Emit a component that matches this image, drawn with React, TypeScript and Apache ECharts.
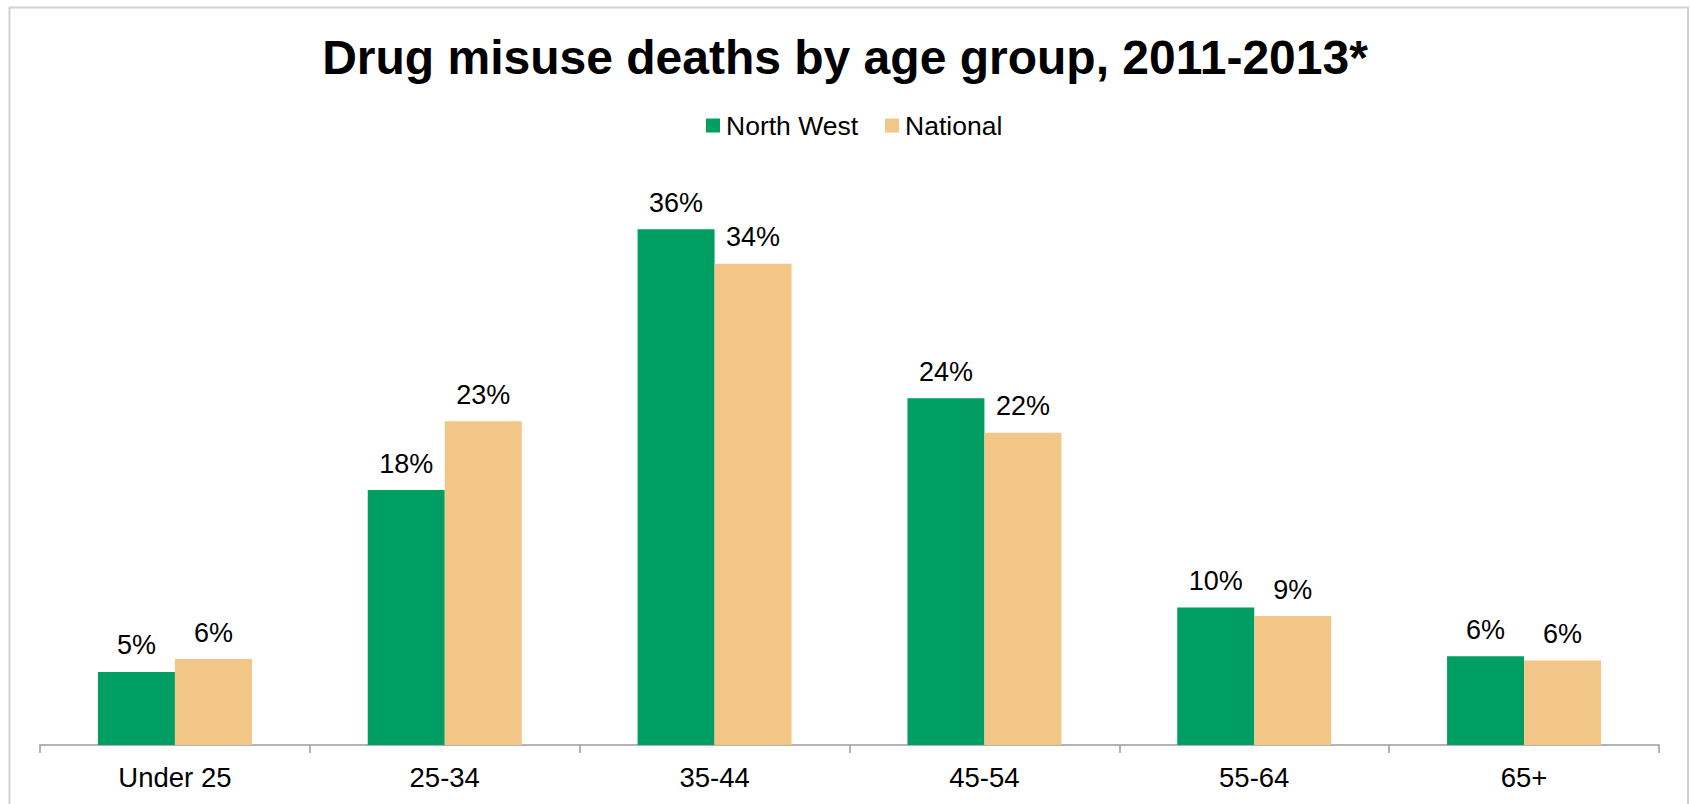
import React, { useEffect, useRef } from "react";
import * as echarts from "echarts";

// Share of drug misuse deaths by age band, 2011-2013 (%)
const ageGroups = ["Under 25", "25-34", "35-44", "45-54", "55-64", "65+"];
const northWest = [5.1, 17.8, 36.0, 24.2, 9.6, 6.2];
const national = [6.0, 22.6, 33.6, 21.8, 9.0, 5.9];
const seriesNames = ["North West", "National"];

const FONT = "'Liberation Sans', Arial, sans-serif";
const GREEN = "#009E63";
const TAN = "#F1C686";
const AXIS_GREY = "#9a9a9a";

export default function App() {
  const ref = useRef<HTMLDivElement>(null);

  useEffect(() => {
    if (!ref.current) return;
    const chart = echarts.init(ref.current, undefined, { renderer: "svg" });

    const label = {
      show: true,
      position: "top",
      distance: 13,
      fontSize: 27,
      fontFamily: FONT,
      color: "#000",
      formatter: (p: any) => `${Math.round(p.value)}%`,
    };

    chart.setOption({
      animation: false,
      backgroundColor: "#fff",
      textStyle: { fontFamily: FONT },
      title: {
        text: "Drug misuse deaths by age group, 2011-2013*",
        left: "center",
        top: 33,
        padding: 0,
        textStyle: { fontSize: 48, fontWeight: "bold", color: "#000", fontFamily: FONT },
      },
      legend: {
        data: seriesNames,
        left: 706,
        top: 112,
        padding: 0,
        itemWidth: 14,
        itemHeight: 14,
        itemGap: 27,
        icon: "rect",
        textStyle: { fontSize: 26.5, color: "#000", fontFamily: FONT, padding: [0, 0, 0, 1] },
      },
      grid: { left: 40, right: 31, top: 172, bottom: 59 },
      xAxis: {
        type: "category",
        data: ageGroups,
        boundaryGap: true,
        axisLine: { show: true, lineStyle: { color: AXIS_GREY, width: 1.5 } },
        axisTick: {
          show: true,
          alignWithLabel: false,
          interval: 0,
          length: 8,
          lineStyle: { color: AXIS_GREY, width: 1.5 },
        },
        axisLabel: { margin: 18, fontSize: 27.5, color: "#000", fontFamily: FONT },
      },
      yAxis: {
        type: "value",
        min: 0,
        max: 40,
        show: false,
        splitLine: { show: false },
      },
      series: [
        {
          name: seriesNames[0],
          type: "bar",
          data: northWest,
          barWidth: 77,
          barGap: "0%",
          itemStyle: { color: GREEN },
          label,
        },
        {
          name: seriesNames[1],
          type: "bar",
          data: national,
          barWidth: 77,
          barGap: "0%",
          itemStyle: { color: TAN },
          label,
        },
      ],
      graphic: [
        {
          type: "rect",
          shape: { x: 9.5, y: 7.5, width: 1678.5, height: 820 },
          style: { fill: "none", stroke: "#d2d2d2", lineWidth: 2 },
          silent: true,
        },
      ],
    });

    return () => chart.dispose();
  }, []);

  return (
    <div
      ref={ref}
      style={{ position: "fixed", left: 0, top: 0, width: 1690, height: 804 }}
    />
  );
}
